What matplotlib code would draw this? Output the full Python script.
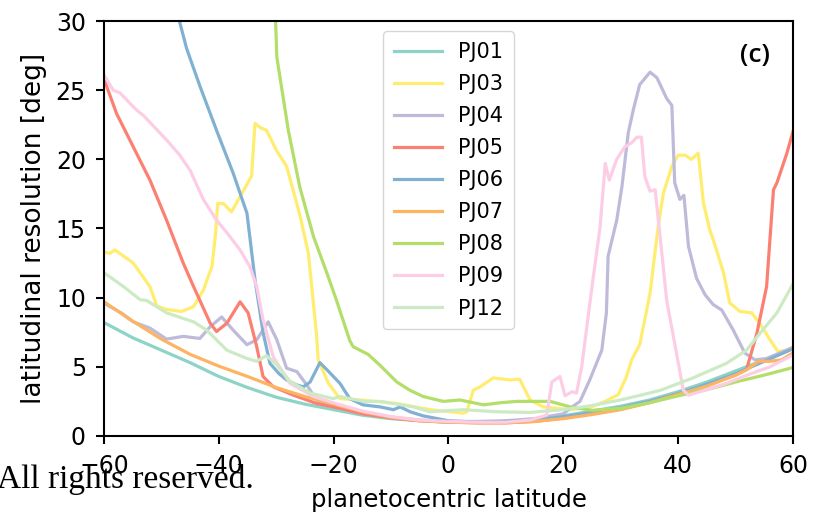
import matplotlib
matplotlib.use("Agg")
import matplotlib.pyplot as plt
import numpy as np

# ---- data ----
lat01 = [-60, -55, -50, -45, -40, -35, -30, -25, -20, -15, -10, -5, 0, 5, 10, 15, 20, 25, 30, 35, 40, 45, 50, 55, 60]
v01 = [8.2, 7.1, 6.2, 5.3, 4.3, 3.5, 2.8, 2.3, 1.9, 1.5, 1.25, 1.1, 1.0, 1.0, 1.05, 1.2, 1.45, 1.8, 2.15, 2.6, 3.2, 3.9, 4.7, 5.5, 6.35]

lat03 = [-60, -59.0, -58.1, -54.9, -52, -50.8, -49.1, -46.5, -44.4, -42.7, -41.2, -40.6, -40.2, -39.2, -37.8, -36.3,
         -34.3, -33.7, -32.8, -31.7, -29.9, -28.2, -25.9, -24.4, -23.0, -22.7, -20.9, -18.9, -15.4, -9, -3.2, 2.6,
         3.2, 4.3, 5.5, 7.8, 10.7, 12.4, 14.2, 16.5, 21.2, 24.9, 27.3, 29.6, 31.0, 31.9, 33.3, 35.1, 36.5, 37.4,
         38.9, 40.0, 41.2, 42.3, 43.5, 44.4, 45.5, 46.1, 47.9, 49.0, 50.8, 52.8, 54.2, 56.0, 57.4, 58.9, 60]
v03 = [13.3, 13.2, 13.45, 12.5, 10.8, 9.4, 9.15, 9.0, 9.35, 10.55, 12.25, 14.5, 16.8, 16.8, 16.2, 17.3,
       18.8, 22.6, 22.3, 22.1, 20.6, 19.5, 16.0, 13.2, 7.4, 5.5, 3.8, 2.7, 2.6, 2.35, 1.9, 1.65,
       1.75, 3.3, 3.55, 4.2, 4.05, 4.1, 2.6, 2.1, 1.9, 2.1, 2.5, 3.0, 4.3, 5.5, 6.6, 10.3, 15.1, 17.5,
       19.5, 20.3, 20.3, 20.0, 20.45, 16.85, 14.9, 14.2, 11.8, 9.6, 9.0, 8.9, 8.15, 6.95, 6.1, 6.2, 6.45]

lat04 = [-60, -57, -54.9, -52.0, -49.1, -46.2, -43.3, -41.5, -39.5, -37.5, -35.1, -33.4, -31.4, -29.9, -28.2,
         -26.4, -24.7, -23.0, -20, -15, -10, -5, 0, 5, 10, 15, 20, 21.2, 22.9, 24.6, 26.7, 27.5, 27.8, 29.3,
         30.2, 31.3, 32.2, 33.3, 35.1, 36.3, 38.0, 38.9, 39.4, 40.3, 41.0, 41.8, 43.2, 44.7, 46.1, 47.6,
         49.6, 51.6, 53.4, 55.4, 57.7, 60]
v04 = [9.6, 8.9, 8.25, 7.8, 7.0, 7.2, 7.05, 7.9, 8.6, 7.65, 6.6, 6.95, 8.25, 6.95, 4.9,
       4.65, 3.7, 2.6, 2.1, 1.65, 1.35, 1.15, 1.05, 1.05, 1.1, 1.25, 1.6, 2.0, 2.5, 4.05, 6.2, 8.9, 13.0, 15.6,
       18.0, 21.9, 23.6, 25.4, 26.3, 25.9, 24.4, 23.9, 18.3, 17.1, 17.4, 13.7, 11.4, 10.2, 9.5, 9.1,
       7.65, 6.0, 5.5, 5.6, 6.0, 6.4]

lat05 = [-60, -57.8, -54.9, -52.0, -49.1, -46.2, -44.4, -43.3, -41.5, -40.4, -38.6, -36.3, -34.9, -33.4, -32.3,
         -30.5, -27, -23, -18.9, -15, -10, -5, 0, 5, 10, 15, 20, 25, 30, 35, 40, 45, 50, 51.9, 53.7, 55.4,
         56.6, 57.2, 58.9, 60]
v05 = [25.8, 23.3, 20.9, 18.5, 15.6, 12.5, 10.8, 9.8, 8.15, 7.55, 8.15, 9.7, 8.9, 6.45, 4.3,
       3.55, 2.95, 2.35, 2.0, 1.6, 1.3, 1.1, 1.0, 0.95, 0.95, 1.05, 1.3, 1.6, 1.95, 2.45, 3.05, 3.7, 4.4, 4.8, 7.4, 10.8,
       17.8, 18.3, 20.4, 22.0]

lat06 = [-47.5, -45.6, -43.3, -40.4, -37.5, -35.1, -33.7, -32.3, -31.1, -29.5, -28.2, -26.5, -25.3, -24.1, -22.4,
         -21.2, -18.9, -17.2, -14.9, -11.9, -9.6, -8.4, -6.7, -4.4, 0, 5, 10, 15, 20, 25, 30, 35, 40, 45, 50, 55, 60]
v06 = [31, 28.0, 25.3, 22.1, 19.0, 16.1, 11.3, 7.5, 5.25, 4.5, 4.05, 3.7, 3.55, 3.9, 5.3,
       4.8, 3.8, 2.7, 2.25, 2.1, 1.9, 2.1, 1.75, 1.45, 1.1, 1.0, 1.05, 1.15, 1.4, 1.7, 2.05, 2.5, 3.05, 3.75, 4.5, 5.4, 6.3]

lat07 = [-60, -55, -50, -45, -40, -35, -30, -25, -20, -15, -10, -5, 0, 5, 10, 15, 20, 25, 30, 35, 40, 45, 50, 52, 54, 56, 58, 60]
v07 = [9.7, 8.3, 7.0, 5.9, 5.05, 4.3, 3.5, 2.85, 2.3, 1.75, 1.35, 1.1, 1.0, 0.95, 0.95, 1.05, 1.25, 1.55, 1.9, 2.4, 3.0, 3.6, 4.4, 4.8, 5.4, 5.4, 5.5, 6.0]

lat08 = [-30.2, -29.9, -27.9, -25.9, -23.5, -21.2, -19.5, -17.2, -16.6, -14, -11.9, -9.0, -6.7, -4.4, -0.9, 2.0,
         6.1, 9, 11.9, 15, 17.7, 21.2, 25, 30, 35, 40, 45, 50, 55, 60]
v08 = [31, 27.4, 22.1, 18.0, 14.4, 11.8, 9.8, 6.9, 6.45, 5.9, 5.1, 3.9, 3.3, 2.85, 2.5, 2.6,
       2.25, 2.4, 2.5, 2.5, 2.5, 2.1, 1.85, 2.0, 2.4, 2.9, 3.35, 3.9, 4.4, 4.95]

lat09 = [-60, -58.4, -57.2, -54.9, -54.0, -53.2, -49.1, -46.8, -45.0, -42.7, -40.4, -38.6, -36.3, -34.6, -33.4,
         -32.3, -30.5, -27.6, -23.5, -18.9, -15, -10, -5, 0, 5, 10, 14.2, 17.1, 18.0, 19.4, 20.3, 21.5, 22.3,
         23.2, 24.9, 26.4, 27.3, 28.0, 29.3, 30.7, 31.9, 32.8, 33.6, 34.2, 35.1, 36.0, 36.8, 38.0, 39.7, 40.9,
         41.8, 45, 48.4, 52, 56, 60]
v09 = [26.1, 25.0, 24.8, 23.8, 23.45, 23.2, 21.4, 20.3, 19.2, 17.1, 15.6, 14.7, 13.45, 12.25, 10.8,
       8.4, 5.7, 3.8, 2.85, 2.25, 1.8, 1.4, 1.15, 1.05, 1.0, 1.0, 1.15, 1.5, 3.9, 4.3, 2.9, 3.2, 3.1,
       5.0, 10.5, 15.1, 19.7, 18.5, 20.0, 20.9, 21.2, 21.6, 21.6, 18.75, 17.7, 17.8, 14.65, 9.8, 6.0, 3.3,
       2.95, 3.35, 3.8, 4.4, 5.0, 5.85]

lat12 = [-60, -56.6, -53.7, -52.6, -49.1, -44.4, -42.1, -38.6, -35.1, -33.4, -31.7, -29.9, -27.6, -24.1, -20.1,
         -18.9, -14.8, -11.9, -6.1, -3.2, 2.6, 8.4, 14.2, 20.0, 25, 29.9, 33, 36.9, 42.6, 48.4, 51.9, 54.2, 57.2, 60]
v12 = [11.8, 10.8, 9.85, 9.8, 8.9, 8.25, 7.65, 6.2, 5.6, 5.4, 5.8, 5.15, 3.95, 3.1, 2.7,
       2.85, 2.5, 2.5, 2.1, 1.75, 1.9, 1.75, 1.7, 1.9, 2.2, 2.6, 2.9, 3.3, 4.2, 5.25, 6.2, 7.4, 8.9, 11.0]

names = ["PJ01", "PJ03", "PJ04", "PJ05", "PJ06", "PJ07", "PJ08", "PJ09", "PJ12"]
lats = [lat01, lat03, lat04, lat05, lat06, lat07, lat08, lat09, lat12]
vals = [v01, v03, v04, v05, v06, v07, v08, v09, v12]
colors = ["#8dd3c7", "#ffed6f", "#bebada", "#fb8072", "#80b1d3", "#fdb462", "#b3de69", "#fccde5", "#ccebc5"]

fig = plt.figure(figsize=(8.15, 5.19), dpi=100)
ax = fig.add_axes([0.1276, 0.16, 0.8454, 0.7995])

for name, la, va, c in zip(names, lats, vals, colors):
    ax.plot(la, va, color=c, lw=2.3, label=name)

ax.set_xlim(-60, 60)
ax.set_ylim(0, 30)
ax.set_xticks([-60, -40, -20, 0, 20, 40, 60])
ax.set_yticks([0, 5, 10, 15, 20, 25, 30])
ax.tick_params(labelsize=17, width=1.5, length=6, pad=7)
for s in ax.spines.values():
    s.set_linewidth(1.5)
ax.set_xlabel("planetocentric latitude", fontsize=17.5, labelpad=7)
ax.set_ylabel("latitudinal resolution [deg]", fontsize=19, labelpad=6)

ax.legend(loc="upper center", fontsize=15, borderaxespad=0.5,
          labelspacing=0.58, handlelength=2.3, borderpad=0.5)
ax.text(0.945, 0.918, "(c)", transform=ax.transAxes, fontsize=19, family="Open Sans",
        fontweight="semibold", ha="center", va="center")

fig.text(-0.004, 0.06, "All rights reserved.", family="Liberation Serif", fontsize=24,
         ha="left", va="baseline")

fig.savefig("out.png", dpi=100)
